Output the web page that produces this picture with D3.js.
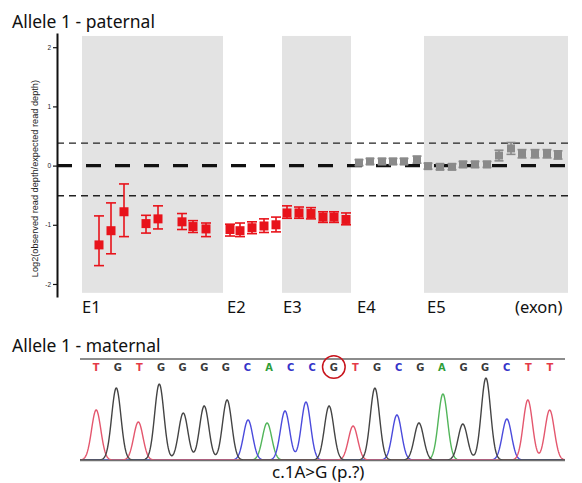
<!DOCTYPE html>
<html>
<head>
<meta charset="utf-8">
<script src="https://cdn.jsdelivr.net/npm/d3@7"></script>
<style>
  body { margin: 0; background: #fff; }
  svg { display: block; }
  .ttl { font-family: "Noto Sans", "Open Sans", sans-serif; fill: #111; }
</style>
</head>
<body>
<svg id="chart" width="582" height="483"></svg>
<script>
// ---- top panel data (positions along the gene, log2 ratio, error bar) ----
const redPos = [42, 54, 67, 89, 101, 125, 136, 149, 173, 183, 195, 207, 219, 230, 242, 254, 266, 277, 289];
const redVal = [-1.34, -1.10, -0.78, -0.98, -0.90, -0.95, -1.03, -1.07, -1.08, -1.10, -1.05, -1.02, -1.00, -0.80, -0.80, -0.81, -0.87, -0.87, -0.91];
const redLo  = [-1.69, -1.49, -1.20, -1.14, -1.07, -1.08, -1.13, -1.20, -1.19, -1.20, -1.15, -1.13, -1.12, -0.89, -0.89, -0.90, -0.96, -0.96, -1.00];
const redHi  = [-0.85, -0.63, -0.31, -0.84, -0.68, -0.81, -0.93, -0.97, -0.99, -0.97, -0.95, -0.90, -0.87, -0.68, -0.70, -0.71, -0.78, -0.78, -0.80];

const grayPos = [302, 313, 325, 336, 347, 360, 371, 383, 395, 406, 418, 430, 442, 454, 465, 478, 490, 501];
const grayVal = [0.05, 0.07, 0.07, 0.07, 0.07, 0.10, -0.01, -0.02, -0.02, 0.02, 0.02, 0.02, 0.17, 0.29, 0.20, 0.20, 0.20, 0.18];
const grayErr = [0.05, 0.05, 0.05, 0.05, 0.05, 0.06, 0.05, 0.05, 0.05, 0.05, 0.05, 0.05, 0.09, 0.10, 0.07, 0.07, 0.07, 0.07];

const shadeStart = [25, 225, 367];
const shadeEnd   = [166, 294, 511];
const exonLabels = ["E1", "E2", "E3", "E4", "E5", "(exon)"];
const exonLabelPos = [25, 170, 226, 300, 370, 458];
const yTicks = [-2, -1, 0, 1, 2];
const thresholds = [0.38, -0.51];

// ---- bottom panel data (Sanger trace) ----
const bases = ["T","G","T","G","G","G","G","C","A","C","C","G","T","G","C","G","A","G","G","C","T","T"];
const peakPos = [0, 0.93, 1.95, 2.92, 4.03, 5.0, 6.06, 7.03, 7.91, 8.74, 9.71, 10.78, 11.89, 12.9, 13.92, 14.94, 16.05, 16.97, 18.04, 19.01, 19.98, 20.99];
const peakHeight = [50, 72, 38, 76, 47, 54, 60, 40, 37, 49, 58, 54, 34, 72, 45, 37, 66, 36, 82, 41, 60, 50];
const markedBase = 11;
const mutationLabel = "c.1A>G (p.?)";

const baseColor  = { T: "#e43a48", G: "#3a3a3a", C: "#3434c8", A: "#2f9e3a" };
const traceColor = { T: "#e4576e", G: "#444444", C: "#4b4bdc", A: "#52b55a" };

const svg = d3.select("#chart");
svg.append("rect").attr("width", 582).attr("height", 483).attr("fill", "#fff");

// ===== top panel =====
const x = d3.scaleLinear().domain([0, 525]).range([57, 582]);
const y = d3.scaleLinear().domain([-2.22, 2.24]).range([297, 33]);

svg.append("text").attr("class", "ttl").attr("x", 12).attr("y", 28)
  .attr("font-size", 17.5).text("Allele 1 - paternal");

// shaded exon bands
svg.selectAll("rect.band").data(shadeStart).join("rect")
  .attr("class", "band")
  .attr("x", d => x(d))
  .attr("width", (d, i) => x(shadeEnd[i]) - x(d))
  .attr("y", y(2.19)).attr("height", y(-2.15) - y(2.19))
  .attr("fill", "#e3e3e3");

// threshold lines
svg.selectAll("line.thr").data(thresholds).join("line")
  .attr("class", "thr")
  .attr("x1", x(0)).attr("x2", x(513))
  .attr("y1", d => y(d)).attr("y2", d => y(d))
  .attr("stroke", "#222").attr("stroke-width", 1.4)
  .attr("stroke-dasharray", "7,5");

svg.append("line")
  .attr("x1", x(0)).attr("x2", x(513))
  .attr("y1", y(0)).attr("y2", y(0))
  .attr("stroke", "#111").attr("stroke-width", 3.2)
  .attr("stroke-dasharray", "15,14");

// y axis
const yAxis = d3.axisLeft(y).tickValues(yTicks).tickSize(4).tickSizeOuter(0)
  .tickFormat(d => String(d));
const gY = svg.append("g").attr("transform", `translate(${x(0)},0)`).call(yAxis);
gY.select(".domain").attr("stroke", "#111").attr("stroke-width", 2);
gY.selectAll(".tick line").attr("stroke", "#111").attr("stroke-width", 1.2);
gY.selectAll(".tick text").attr("font-size", 6.5).attr("font-family", "Liberation Sans, Arial, sans-serif")
  .attr("x", -6).attr("fill", "#222");

svg.append("text")
  .attr("transform", `translate(38,${y(-0.22)}) rotate(-90)`)
  .attr("text-anchor", "middle")
  .attr("font-family", "Liberation Sans, Arial, sans-serif")
  .attr("font-size", 9.2).attr("fill", "#222")
  .text("Log2(observed read depth/expected read depth)");

// probes
function drawProbes(cls, pos, val, lo, hi, color, size, cap) {
  const g = svg.append("g").attr("class", cls);
  const items = pos.map((p, i) => ({ p, v: val[i], lo: lo[i], hi: hi[i] }));
  const it = g.selectAll("g").data(items).join("g");
  it.append("line")
    .attr("x1", d => x(d.p)).attr("x2", d => x(d.p))
    .attr("y1", d => y(d.lo)).attr("y2", d => y(d.hi))
    .attr("stroke", color).attr("stroke-width", 1.6);
  [d => d.lo, d => d.hi].forEach(f => {
    it.append("line")
      .attr("x1", d => x(d.p) - cap / 2).attr("x2", d => x(d.p) + cap / 2)
      .attr("y1", d => y(f(d))).attr("y2", d => y(f(d)))
      .attr("stroke", color).attr("stroke-width", 1.6);
  });
  it.append("rect")
    .attr("x", d => x(d.p) - size / 2).attr("y", d => y(d.v) - size / 2)
    .attr("width", size).attr("height", size)
    .attr("fill", color);
}
drawProbes("red", redPos, redVal, redLo, redHi, "#e8131b", 9, 10);
drawProbes("gray", grayPos, grayVal,
  grayVal.map((v, i) => v - grayErr[i]), grayVal.map((v, i) => v + grayErr[i]),
  "#8a8a8a", 8, 9);

svg.selectAll("text.exon").data(exonLabels).join("text")
  .attr("class", "exon ttl")
  .attr("x", (d, i) => x(exonLabelPos[i]))
  .attr("y", 313)
  .attr("font-size", 16.5)
  .text(d => d);

// ===== bottom panel =====
svg.append("text").attr("class", "ttl").attr("x", 12).attr("y", 352)
  .attr("font-size", 17.5).text("Allele 1 - maternal");

const tx = d3.scaleLinear().domain([-0.75, 21.7]).range([80, 565]);
const ty = d3.scaleLinear().domain([0, 100]).range([460, 360]);

svg.append("line").attr("x1", tx(-0.75)).attr("x2", tx(21.7))
  .attr("y1", 359).attr("y2", 359).attr("stroke", "#8c8c8c").attr("stroke-width", 2);

svg.selectAll("text.base").data(bases).join("text")
  .attr("class", "base")
  .attr("x", (d, i) => tx(i)).attr("y", 371)
  .attr("text-anchor", "middle")
  .attr("font-family", "DejaVu Sans Condensed, DejaVu Sans, sans-serif")
  .attr("font-weight", "bold").attr("font-size", 11)
  .attr("fill", d => baseColor[d])
  .text(d => d);

svg.append("circle")
  .attr("cx", tx(markedBase)).attr("cy", 367).attr("r", 11.3)
  .attr("fill", "none").attr("stroke", "#c8141c").attr("stroke-width", 1.5);

// one curve per channel built from its peaks
const sigma = 0.215;
const samples = d3.range(-0.75, 21.7001, 0.02);
["A", "C", "T", "G"].forEach(b => {
  const pts = samples.map(s => {
    let v = 0;
    bases.forEach((bb, i) => {
      if (bb === b) {
        const dd = (s - peakPos[i]) / sigma;
        v += peakHeight[i] * Math.exp(-0.5 * dd * dd);
      }
    });
    return [s, v];
  });
  svg.append("path")
    .attr("d", d3.line().x(d => tx(d[0])).y(d => ty(d[1]))(pts))
    .attr("fill", "none").attr("stroke", traceColor[b]).attr("stroke-width", 1.4);
});

svg.append("line").attr("x1", tx(-0.75)).attr("x2", tx(21.7))
  .attr("y1", 460.5).attr("y2", 460.5).attr("stroke", "#707070").attr("stroke-width", 1.5);

svg.append("text").attr("class", "ttl")
  .attr("x", 272).attr("y", 478).attr("font-size", 17)
  .text(mutationLabel);
</script>
</body>
</html>
